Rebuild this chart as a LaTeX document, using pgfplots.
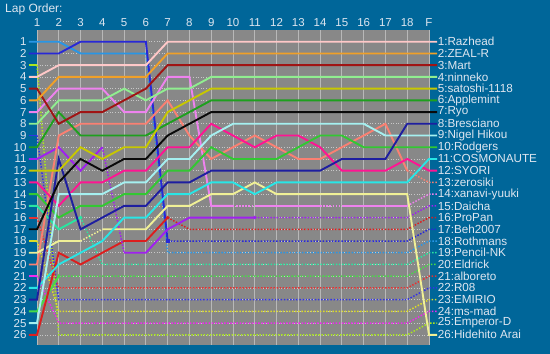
\documentclass[border=0pt]{standalone}
\usepackage{pgfplots}
\pgfplotsset{compat=1.18}
\usepackage{fontspec}
\setmainfont{Liberation Sans}
\definecolor{bg}{RGB}{0,102,153}
\definecolor{plotbg}{RGB}{136,136,136}
\definecolor{txt}{RGB}{222,230,240}
\definecolor{cRaz}{RGB}{255,200,200}
\definecolor{cZeal}{RGB}{240,160,40}
\definecolor{cMart}{RGB}{160,20,20}
\definecolor{cNin}{RGB}{144,238,144}
\definecolor{cSat}{RGB}{200,200,0}
\definecolor{cApple}{RGB}{30,160,30}
\definecolor{cRyo}{RGB}{10,10,10}
\definecolor{cBres}{RGB}{30,30,160}
\definecolor{cNigel}{RGB}{165,240,240}
\definecolor{cRodg}{RGB}{50,200,50}
\definecolor{cCosm}{RGB}{40,230,230}
\definecolor{cSyori}{RGB}{255,20,147}
\definecolor{cZero}{RGB}{250,128,114}
\definecolor{cXan}{RGB}{238,130,238}
\definecolor{cDai}{RGB}{160,32,240}
\definecolor{cPro}{RGB}{220,30,30}
\definecolor{cBeh}{RGB}{40,40,215}
\definecolor{cRoth}{RGB}{40,150,230}
\definecolor{cPen}{RGB}{40,230,160}
\definecolor{cEld}{RGB}{70,220,70}
\definecolor{cAlb}{RGB}{230,50,50}
\definecolor{cR08}{RGB}{50,50,230}
\definecolor{cEmi}{RGB}{220,220,40}
\definecolor{cMs}{RGB}{240,40,240}
\definecolor{cEmp}{RGB}{170,230,30}
\definecolor{cHide}{RGB}{240,240,150}
\pgfplotsset{
  sl/.style={line width=1.9pt, mark=none},
  dl/.style={line width=1.5pt, dash pattern=on 1.5pt off 1.6pt, mark=none},
}
\begin{document}
\begin{tikzpicture}[x=1pt,y=1pt]
\fill[bg] (-37,-9) rectangle (513,345);
\node[anchor=north west, text=txt, font=\fontsize{12}{14}\selectfont, inner sep=0pt] at (-32,341) {Lap Order:};
\begin{axis}[at={(0,0)}, anchor=south west, scale only axis, width=392pt, height=315pt,
  xmin=1, xmax=19, ymin=0, ymax=26.87, y dir=reverse,
  axis background/.style={fill=plotbg},
  axis line style={draw=none},
  xtick={1,...,19}, xticklabels={1,2,3,4,5,6,7,8,9,10,11,12,13,14,15,16,17,18,F},
  xticklabel pos=top,
  ytick={1,...,26},
  major tick length=0pt,
  tick label style={text=txt, font=\fontsize{11.5}{13}\selectfont},
  yticklabel style={xshift=-7pt},
  xmajorgrids, ymajorgrids,
  x grid style={color=black!28, line width=0.8pt},
  y grid style={color=black!22, line width=0.6pt, dotted},
  clip=false,
  /pgf/number format/assume math mode=true,
]
% ---- retired on lap 1/2
\addplot[sl, cEmp] coordinates {(0.63,3)(1,3)};
\addplot[dl, cEmp] coordinates {(1,3)(2,26)(18,26)(19,25)(19.37,25)};
\addplot[sl, cR08] coordinates {(0.63,9)(1,9)};
\addplot[dl, cR08] coordinates {(1,9)(2,23)(18,23)(19,22)(19.37,22)};
\addplot[sl, cAlb] coordinates {(0.63,16)(1,16)};
\addplot[dl, cAlb] coordinates {(1,16)(2,22)(18,22)(19,21)(19.37,21)};
\addplot[sl, cEmi] coordinates {(0.63,18)(1,18)};
\addplot[dl, cEmi] coordinates {(1,18)(2,24)(18,24)(19,23)(19.37,23)};
\addplot[sl, cMs] coordinates {(0.63,21)(1,21)};
\addplot[dl, cMs] coordinates {(1,21)(2,25)(18,25)(19,24)(19.37,24)};
\addplot[sl, cEld] coordinates {(0.63,24)(1,24)(2,21)};
\addplot[cEld, only marks, mark=triangle*, mark size=2pt] coordinates {(2,21)};
\addplot[dl, cEld] coordinates {(2,21)(18,21)(19,20)(19.37,20)};
% ---- Pencil-NK
\addplot[sl, cPen] coordinates {(0.63,15)(1,15)(2,17)(3,16)};
\addplot[cPen, only marks, mark=*, mark size=1.6pt] coordinates {(3,16)};
\addplot[dl, cPen] coordinates {(3,16)(4,20)(18,20)(19,19)(19.37,19)};
% ---- Rothmans
\addplot[sl, cRoth] coordinates {(0.63,1)(1,1)(2,1)(3,2)(4,2)(5,2)(6,2)};
\addplot[dl, cRoth] coordinates {(6,2)(7,19)(18,19)(19,18)(19.37,18)};
% ---- Beh2007
\addplot[sl, cBeh] coordinates {(0.63,2)(1,2)(2,2)(3,1)(4,1)(5,1)(6,1)(7,18)};
\addplot[cBeh, only marks, mark=square*, mark size=1.6pt] coordinates {(7,18)};
\addplot[dl, cBeh] coordinates {(7,18)(18,18)(19,17)(19.37,17)};
% ---- ProPan
\addplot[sl, cPro] coordinates {(0.63,26)(1,26)(2,19)(3,20)(4,19)(5,18)(6,18)(7,16)};
\addplot[cPro, only marks, mark=*, mark size=1.6pt] coordinates {(7,16)};
\addplot[dl, cPro] coordinates {(7,16)(8,17)(18,17)(19,16)(19.37,16)};
% ---- Daicha
\addplot[sl, cDai] coordinates {(0.63,11)(1,11)(2,10)(3,12)(4,10)};
\addplot[dl, cDai] coordinates {(4,10)(5,19)};
\addplot[sl, cDai] coordinates {(5,19)(6,19)(7,17)(8,16)(9,16)(10,16)(11,16)};
\addplot[cDai, only marks, mark=*, mark size=1.6pt] coordinates {(11,16)};
\addplot[dl, cDai] coordinates {(11,16)(18,16)(19,15)(19.37,15)};
% ---- xanavi-yuuki
\addplot[sl, cXan] coordinates {(0.63,7)(1,7)(2,5)(3,5)(4,5)(5,7)(6,7)(7,4)(8,4)(9,15)(10,15)};
\addplot[dl, cXan] coordinates {(10,15)(11,15)};
\addplot[sl, cXan] coordinates {(11,15)(14,15)};
\addplot[dl, cXan] coordinates {(14,15)(15,15)};
\addplot[sl, cXan] coordinates {(15,15)(18,15)};
\addplot[dl, cXan] coordinates {(18,15)(19,14)(19.37,14)};
% ---- zerosiki
\addplot[sl, cZero] coordinates {(0.63,20)(1,20)(2,9)(3,8)(4,8)(5,8)(6,8)(7,6)(8,9)(9,11)(10,10)(11,9)(12,10)(13,11)(14,11)(15,10)(16,9)(17,8)(18,12)};
\addplot[dl, cZero] coordinates {(18,12)(19,13)(19.37,13)};
% ---- Hidehito Arai
\addplot[sl, cHide] coordinates {(0.63,19)(1,19)(2,18)(3,18)};
\addplot[dl, cHide] coordinates {(3,18)(4,17)};
\addplot[sl, cHide] coordinates {(4,17)(5,17)(6,17)(7,15)(8,15)(9,14)(10,14)(11,13)(12,14)(18,14)(19,26)(19.37,26)};
% ---- SYORI
\addplot[sl, cSyori] coordinates {(0.63,13)(1,13)(2,15)(3,13)(4,13)(5,12)(6,12)(7,10)(8,10)(9,8)(10,9)(11,10)(12,9)(13,9)(14,10)(15,12)(16,12)(17,12)(18,11)(19,12)(19.37,12)};
% ---- COSMONAUTE
\addplot[sl, cCosm] coordinates {(0.63,22)(1,22)(2,20)(3,19)(4,18)(5,16)(6,16)(7,14)(8,14)(9,13)(10,13)(11,14)(12,13)(18,13)(19,11)(19.37,11)};
% ---- Rodgers
\addplot[sl, cRodg] coordinates {(0.63,14)(1,14)(2,16)(3,15)(4,15)(5,14)(6,14)(7,12)(8,12)(9,10)(10,11)(11,11)(12,11)(13,10)(14,9)(15,9)(16,10)(17,10)(18,10)(19,10)(19.37,10)};
% ---- Nigel Hikou
\addplot[sl, cNigel] coordinates {(0.63,25)(1,25)(2,14)(3,14)(4,14)(5,13)(6,13)(7,11)(8,11)(9,9)(10,8)(16,8)(17,9)(18,9)(19,9)(19.37,9)};
% ---- Bresciano
\addplot[sl, cBres] coordinates {(0.63,23)(1,23)(2,11)(3,17)(4,16)(5,15)(6,15)(7,13)(8,13)(9,12)(14,12)(15,11)(16,11)(17,11)(18,8)(19,8)(19.37,8)};
% ---- Ryo
\addplot[sl, cRyo] coordinates {(0.63,17)(1,17)(2,13)(3,11)(4,12)(5,11)(6,11)(7,9)(8,8)(9,7)(19,7)(19.37,7)};
% ---- Applemint
\addplot[sl, cApple] coordinates {(0.63,10)(1,10)(2,7)(3,9)(4,9)(5,9)(6,9)(7,8)(8,7)(9,6)(19,6)(19.37,6)};
% ---- satoshi-1118
\addplot[sl, cSat] coordinates {(0.63,12)(1,12)(2,12)(3,10)(4,11)(5,10)(6,10)(7,7)(8,6)(9,5)(19,5)(19.37,5)};
% ---- ninneko
\addplot[sl, cNin] coordinates {(0.63,8)(1,8)(2,6)(3,6)(4,6)(5,5)(6,6)(7,5)(8,5)(9,4)(19,4)(19.37,4)};
% ---- Mart
\addplot[sl, cMart] coordinates {(0.63,5)(1,5)(2,8)(3,7)(4,7)(5,6)(6,5)(7,3)(19,3)(19.37,3)};
% ---- ZEAL-R
\addplot[sl, cZeal] coordinates {(0.63,6)(1,6)(2,4)(6,4)(7,2)(19,2)(19.37,2)};
% ---- Razhead
\addplot[sl, cRaz] coordinates {(0.63,4)(1,4)(2,3)(6,3)(7,1)(19,1)(19.37,1)};
% ---- names
\begin{scope}[every node/.style={anchor=west, text=txt, inner sep=0.5pt, font=\fontsize{11.7}{14}\selectfont}]
\node at (axis cs:19.37,1) {1:Razhead};
\node at (axis cs:19.37,2) {2:ZEAL-R};
\node at (axis cs:19.37,3) {3:Mart};
\node at (axis cs:19.37,4) {4:ninneko};
\node at (axis cs:19.37,5) {5:satoshi-1118};
\node at (axis cs:19.37,6) {6:Applemint};
\node at (axis cs:19.37,7) {7:Ryo};
\node at (axis cs:19.37,8) {8:Bresciano};
\node at (axis cs:19.37,9) {9:Nigel Hikou};
\node at (axis cs:19.37,10) {10:Rodgers};
\node at (axis cs:19.37,11) {11:COSMONAUTE};
\node at (axis cs:19.37,12) {12:SYORI};
\node at (axis cs:19.37,13) {13:zerosiki};
\node at (axis cs:19.37,14) {14:xanavi-yuuki};
\node at (axis cs:19.37,15) {15:Daicha};
\node at (axis cs:19.37,16) {16:ProPan};
\node at (axis cs:19.37,17) {17:Beh2007};
\node at (axis cs:19.37,18) {18:Rothmans};
\node at (axis cs:19.37,19) {19:Pencil-NK};
\node at (axis cs:19.37,20) {20:Eldrick};
\node at (axis cs:19.37,21) {21:alboreto};
\node at (axis cs:19.37,22) {22:R08};
\node at (axis cs:19.37,23) {23:EMIRIO};
\node at (axis cs:19.37,24) {24:ms-mad};
\node at (axis cs:19.37,25) {25:Emperor-D};
\node at (axis cs:19.37,26) {26:Hidehito Arai};
\end{scope}
\end{axis}
\end{tikzpicture}
\end{document}
